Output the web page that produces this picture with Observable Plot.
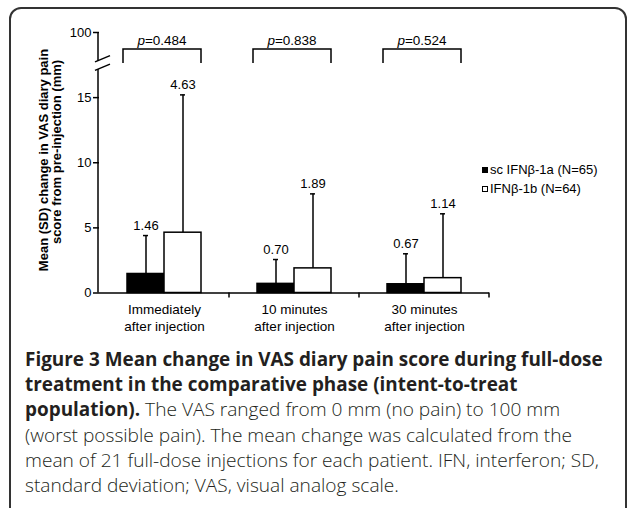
<!DOCTYPE html>
<html><head><meta charset="utf-8">
<script src="https://cdn.jsdelivr.net/npm/d3@7"></script>
<script src="https://cdn.jsdelivr.net/npm/@observablehq/plot@0.6"></script>
<style>
html,body{margin:0;padding:0;width:627px;height:508px;overflow:hidden;background:#fff;}
#frame{position:absolute;left:9px;top:7px;width:618px;height:640px;border:2px solid #333;border-radius:12px;box-sizing:border-box;}
#chart{position:absolute;left:0;top:0;}
.ytitle{position:absolute;font:bold 13px "Liberation Sans",Arial,sans-serif;white-space:nowrap;transform:translate(-50%,-50%) rotate(-90deg);color:#000;}
.leg{position:absolute;left:482px;font:13px "Liberation Sans",Arial,sans-serif;color:#000;height:16px;line-height:16px;white-space:nowrap;}
.sw{display:inline-block;width:6px;height:6px;margin-right:2px;vertical-align:1px;box-sizing:border-box;}
#caption{position:absolute;left:25px;top:347px;font-family:"Open Sans",sans-serif;color:#231f20;line-height:24.2px;white-space:nowrap;}
#caption b{font-weight:bold;}
#caption span{font-weight:300;}
</style></head>
<body>
<div id="frame"></div>
<div id="chart"></div>
<div id="ytitle1" class="ytitle" style="left:42.5px;top:160px"></div>
<div id="ytitle2" class="ytitle" style="left:55.5px;top:152px"></div>
<div id="legend"></div>
<div id="caption"></div>
<script>
// ---- data ----
const categories = ["Immediately\nafter injection", "10 minutes\nafter injection", "30 minutes\nafter injection"];
const series = ["sc IFNβ-1a (N=65)", "IFNβ-1b (N=64)"];
const meanA = [1.46, 0.70, 0.67];
const sdA = [2.95, 1.87, 2.34];
const meanB = [4.63, 1.89, 1.14];
const sdB = [10.58, 5.72, 4.94];
const pValues = ["0.484", "0.838", "0.524"];
// broken axis: the top tick "100" sits just above the break (display position 20)
const yTickValues = [0, 5, 10, 15, 20];
const yTickLabels = ["0", "5", "10", "15", "100"];
const yBreak = [17.15, 17.8];
const yTitle = ["Mean (SD) change in VAS diary pain", "score from pre-injection (mm)"];
const captionBold = ["Figure 3 Mean change in VAS diary pain score during full-dose", "treatment in the comparative phase (intent-to-treat", "population)."];
const captionText = [" The VAS ranged from 0 mm (no pain) to 100 mm", "(worst possible pain). The mean change was calculated from the", "mean of 21 full-dose injections for each patient. IFN, interferon; SD,", "standard deviation; VAS, visual analog scale."];

const data = categories.flatMap((c, i) => [
  {cat: c, s: series[0], mean: meanA[i], sd: sdA[i]},
  {cat: c, s: series[1], mean: meanB[i], sd: sdB[i]}
]);
const topOf = d => d.mean + d.sd;

const FONT = '"Liberation Sans", Arial, sans-serif';
const chart = Plot.plot({
  width: 627, height: 340,
  marginLeft: 98, marginRight: 136.5, marginTop: 32, marginBottom: 47.5,
  style: {fontFamily: FONT, fontSize: "13px", color: "black", background: "transparent", overflow: "visible"},
  fx: {domain: categories, padding: 0, label: null},
  x: {domain: series, paddingInner: 0, paddingOuter: 0.74, axis: null},
  y: {domain: [0, 20], label: null},
  color: {domain: series, range: ["black", "white"]},
  marks: [
    Plot.axisY({ticks: yTickValues, tickFormat: d => yTickLabels[yTickValues.indexOf(d)], tickSize: 6, tickPadding: 2, label: null, fontSize: 13, strokeWidth: 1.5}),
    Plot.axisFx({anchor: "bottom", tickSize: 0, tickPadding: 9, lineHeight: 1.25, fontSize: 13.5, label: null}),
    Plot.ruleX(data, {fx: "cat", x: "s", y1: "mean", y2: topOf, strokeWidth: 1.5}),
    Plot.tickY(data, {fx: "cat", x: "s", y: topOf, insetLeft: 16, insetRight: 16, strokeWidth: 1.5}),
    Plot.barY(data, {fx: "cat", x: "s", y: "mean", fill: "s", stroke: "black", strokeWidth: 1.5}),
    Plot.text(data, {fx: "cat", x: "s", y: topOf, text: d => d.mean.toFixed(2), dy: -10, fontSize: 13}),
    Plot.ruleY([0], {strokeWidth: 1.5})
  ]
});
document.getElementById("chart").appendChild(chart);

// ---- decorations derived from the scales ----
const svg = d3.select(chart);
const fx = chart.scale("fx"), xs = chart.scale("x"), ys = chart.scale("y");
const axisX = fx.range[0];
const x0 = xs.range[0];
const g = svg.append("g").attr("stroke", "black").attr("stroke-width", 1.5).attr("fill", "none");
// y axis line with break
[[0, yBreak[0]], [yBreak[1], yTickValues[yTickValues.length - 1]]].forEach(([a, b]) => {
  g.append("line").attr("x1", axisX).attr("x2", axisX).attr("y1", ys.apply(a)).attr("y2", ys.apply(b));
});
yBreak.forEach(v => {
  const yb = ys.apply(v);
  g.append("line").attr("x1", axisX - 3).attr("y1", yb + 1.2).attr("x2", axisX + 12).attr("y2", yb - 5);
});
// group boundary ticks on x axis
const y0 = ys.apply(0);
categories.forEach(c => {
  const xr = fx.apply(c) + fx.bandwidth;
  g.append("line").attr("x1", xr).attr("x2", xr).attr("y1", y0).attr("y2", y0 + 5);
});
// p-value brackets
const bTop = 49, bLeg = 14;
categories.forEach((c, i) => {
  const bl = fx.apply(c) + xs.apply(series[0]) - x0 - 4;
  const br = fx.apply(c) + xs.apply(series[1]) - x0 + xs.bandwidth;
  g.append("path").attr("d", `M${bl},${bTop + bLeg}V${bTop}H${br}V${bTop + bLeg}`);
  const t = svg.append("text").attr("x", (bl + br) / 2).attr("y", bTop - 4.5)
    .attr("text-anchor", "middle").attr("font-family", FONT).attr("font-size", 13.5).attr("fill", "black");
  t.append("tspan").attr("font-style", "italic").text("p");
  t.append("tspan").text("=" + pValues[i]);
});

// ---- y title ----
document.getElementById("ytitle1").textContent = yTitle[0];
document.getElementById("ytitle2").textContent = yTitle[1];

// ---- legend ----
const leg = document.getElementById("legend");
series.forEach((s, i) => {
  const row = document.createElement("div");
  row.className = "leg";
  row.style.top = (i === 0 ? 161.5 : 181) + "px";
  const sw = document.createElement("span");
  sw.className = "sw";
  sw.style.background = i === 0 ? "black" : "white";
  sw.style.border = "1px solid black";
  row.appendChild(sw);
  row.appendChild(document.createTextNode(s));
  leg.appendChild(row);
});

// ---- caption ----
const ctx = document.createElement("canvas").getContext("2d");
const mw = (t, f) => { ctx.font = f; return ctx.measureText(t).width; };
const boldSize = 16 * (603 - 25) / mw(captionBold[0], 'bold 16px "Open Sans"');
const regSize = 16 * (599 - 25) / mw(captionText[2], '300 16px "Open Sans"');
const cap = document.getElementById("caption");
const B = t => `<b style="font-size:${boldSize}px">${t}</b>`;
const R = t => `<span style="font-size:${regSize}px">${t}</span>`;
cap.innerHTML = [B(captionBold[0]), B(captionBold[1]), B(captionBold[2]) + R(captionText[0]),
  R(captionText[1]), R(captionText[2]), R(captionText[3])].join("<br>");
</script>
</body></html>
